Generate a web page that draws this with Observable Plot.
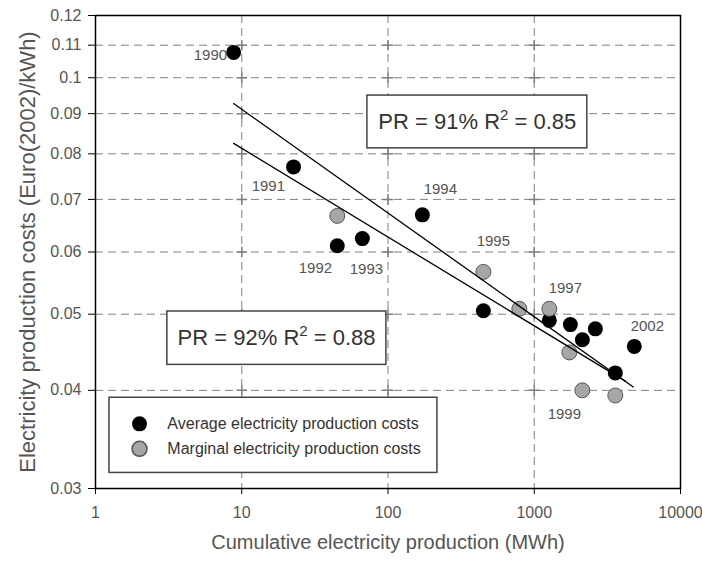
<!DOCTYPE html>
<html><head><meta charset="utf-8">
<script src="https://cdn.jsdelivr.net/npm/d3@7"></script>
<script src="https://cdn.jsdelivr.net/npm/@observablehq/plot@0.6"></script>
<style>body{margin:0;background:#fff} #chart svg{display:block}</style>
</head><body><div id="chart"></div>
<script>
// Average electricity production costs (black)
const avgX = [8.8, 22.6, 45, 66.8, 171.8, 449, 1268, 1766, 2133, 2617, 3583, 4831];
const avgY = [0.1077, 0.0770, 0.0611, 0.0624, 0.0669, 0.0505, 0.0491, 0.0485, 0.0464, 0.0479, 0.0421, 0.0455];
// Marginal electricity production costs (grey)
const margX = [45, 449, 791, 1268, 1738, 2133, 3583];
const margY = [0.0667, 0.0566, 0.0508, 0.0508, 0.0447, 0.0400, 0.0394];
// Experience-curve fits (end points)
const fitAvgX = [8.8, 4755];
const fitAvgY = [0.0927, 0.0404];
const fitMargX = [8.8, 4195];
const fitMargY = [0.0825, 0.0411];
// Year labels
const years = ["1990", "1991", "1992", "1993", "1994", "1995", "1997", "1999", "2002"];
const yearX = [6.11, 15.2, 31.9, 71.2, 228, 525, 1632, 1606, 5932];
const yearY = [0.1067, 0.0727, 0.0573, 0.0571, 0.0722, 0.0620, 0.0540, 0.0373, 0.0483];
// Axes
const xTicks = [1, 10, 100, 1000, 10000];
const yTicks = [0.03, 0.04, 0.05, 0.06, 0.07, 0.08, 0.09, 0.1, 0.11, 0.12];
const xGrid = [10, 100, 1000];
const yGrid = [0.04, 0.05, 0.06, 0.07, 0.08, 0.09, 0.1, 0.11];
const xTitle = "Cumulative electricity production (MWh)";
const yTitle = "Electricity production costs (Euro(2002)/kWh)";
// Annotation boxes
const noteText = ["PR = 91% R² = 0.85", "PR = 92% R² = 0.88"];
const noteX = [408, 17.3];
const noteY = [0.0878, 0.0466];
const noteX1 = [72.3, 3.1], noteX2 = [2306, 97.5];
const noteY1 = [0.0813, 0.0431], noteY2 = [0.0949, 0.0504];
// Legend
const legendLabels = ["Average electricity production costs", "Marginal electricity production costs"];
const legendFill = ["#000", "#a6a6a6"];
const legendDotX = [2.0, 2.0], legendTextX = [3.1, 3.1];
const legendY = [0.03626, 0.0337];
const legendBoxX = [1.246, 217.7], legendBoxY = [0.0314, 0.03914];

const grey = "#808080";
const chart = Plot.plot({
  width: 702, height: 564,
  marginLeft: 95, marginRight: 22, marginTop: 15, marginBottom: 76,
  style: {fontFamily: "'Liberation Sans', Arial, sans-serif", background: "#fff"},
  x: {type: "log", domain: [1, 10000]},
  y: {type: "log", domain: [0.03, 0.12]},
  marks: [
    Plot.gridY(yGrid, {stroke: grey, strokeOpacity: 1, strokeDasharray: "8,5"}),
    Plot.gridX(xGrid, {stroke: grey, strokeOpacity: 1, strokeDasharray: "8,5"}),
    Plot.dot(d3.cross(xGrid, yGrid), {x: d => d[0], y: d => d[1], symbol: "plus", r: 3.5, stroke: grey}),
    Plot.axisY(yTicks, {tickSize: 7, tickPadding: 7, tickFormat: d => String(d), fontSize: 16, fill: "#555", stroke: "#000", label: null}),
    Plot.axisX(xTicks, {tickSize: 6, tickPadding: 12, tickFormat: d => String(d), fontSize: 16, fill: "#555", stroke: "#000", label: null}),
    Plot.text([yTitle], {frameAnchor: "left", textAnchor: "middle", dx: -68, rotate: -90, fontSize: 22, fill: "#555"}),
    Plot.text([xTitle], {frameAnchor: "bottom", dy: 60, fontSize: 20, fill: "#555"}),
    Plot.dot(avgX, {x: avgX, y: avgY, r: 7.5, fill: "#000"}),
    Plot.dot(margX, {x: margX, y: margY, r: 7.5, fill: "#a6a6a6", stroke: "#555", strokeWidth: 1}),
    Plot.line(fitAvgX, {x: fitAvgX, y: fitAvgY, stroke: "#000", strokeWidth: 1.3}),
    Plot.line(fitMargX, {x: fitMargX, y: fitMargY, stroke: "#000", strokeWidth: 1.3}),
    Plot.text(years, {x: yearX, y: yearY, text: years, fontSize: 15, fill: "#555"}),
    Plot.rect(noteText, {x1: noteX1, x2: noteX2, y1: noteY1, y2: noteY2, fill: "#fff", stroke: "#444", strokeWidth: 1.5}),
    Plot.text(noteText, {x: noteX, y: noteY, text: noteText, fontSize: 22, fill: "#333", className: "note"}),
    Plot.rect([0], {x1: [legendBoxX[0]], x2: [legendBoxX[1]], y1: [legendBoxY[0]], y2: [legendBoxY[1]], fill: "#fff", stroke: "#444", strokeWidth: 1.5}),
    Plot.dot(legendLabels, {x: legendDotX, y: legendY, r: 7.5, fill: legendFill, stroke: (d, i) => i ? "#555" : "none"}),
    Plot.text(legendLabels, {x: legendTextX, y: legendY, text: legendLabels, textAnchor: "start", fontSize: 16, fill: "#333"}),
    Plot.frame({stroke: "#000", strokeWidth: 1.5})
  ]
});
// superscript the "2" in R²
d3.select(chart).selectAll("g.note text").each(function() {
  const t = d3.select(this);
  const s = t.text();
  const [a, b] = s.split("²");
  t.text(null);
  t.append("tspan").text(a);
  t.append("tspan").attr("font-size", 15).attr("dy", -9).text("2");
  t.append("tspan").attr("dy", 9).text(b);
});
document.getElementById("chart").appendChild(chart);
</script>
</body></html>
